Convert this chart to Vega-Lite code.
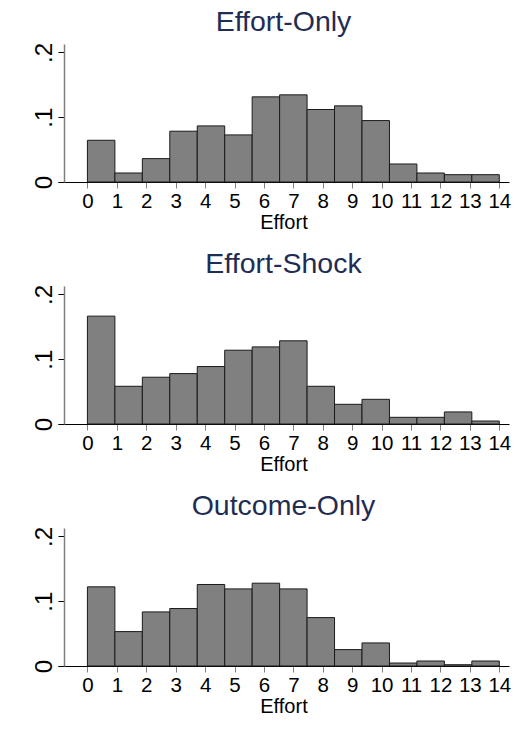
{
  "$schema": "https://vega.github.io/schema/vega-lite/v6.json",
  "background": "white",
  "padding": {"left": 32, "top": 7, "right": 5, "bottom": 5},
  "config": {
    "font": "Liberation Sans",
    "view": {"stroke": null},
    "title": {"fontSize": 28.5, "fontWeight": "normal", "color": "#1f2d54", "font": "Liberation Sans", "offset": 6, "anchor": "middle"},
    "concat": {"spacing": 16},
    "axisX": {
      "domainColor": "#000000", "domainWidth": 1,
      "tickColor": "#808080", "tickSize": 6, "tickWidth": 1,
      "labelFontSize": 20.5, "labelColor": "#000000", "labelPadding": 3,
      "titleFontSize": 20, "titleFontWeight": "normal", "titleColor": "#000000", "titlePadding": 1,
      "grid": false
    },
    "axisY": {
      "domainColor": "#7f7f7f", "domainWidth": 1.5,
      "tickColor": "#000000", "tickSize": 6, "tickWidth": 1,
      "labelFontSize": 24, "labelColor": "#000000", "labelAngle": 270,
      "labelAlign": "center", "labelBaseline": "bottom", "labelPadding": 2,
      "offset": -6, "grid": false, "title": null
    }
  },
  "data": {
    "values": [
      {"group": "Effort-Only", "bin_start": 0, "bin_end": 0.9333, "density": 0.0644},
      {"group": "Effort-Only", "bin_start": 0.9333, "bin_end": 1.8667, "density": 0.0139},
      {"group": "Effort-Only", "bin_start": 1.8667, "bin_end": 2.8, "density": 0.0361},
      {"group": "Effort-Only", "bin_start": 2.8, "bin_end": 3.7333, "density": 0.0784},
      {"group": "Effort-Only", "bin_start": 3.7333, "bin_end": 4.6667, "density": 0.0866},
      {"group": "Effort-Only", "bin_start": 4.6667, "bin_end": 5.6, "density": 0.0727},
      {"group": "Effort-Only", "bin_start": 5.6, "bin_end": 6.5333, "density": 0.1314},
      {"group": "Effort-Only", "bin_start": 6.5333, "bin_end": 7.4667, "density": 0.1345},
      {"group": "Effort-Only", "bin_start": 7.4667, "bin_end": 8.4, "density": 0.1119},
      {"group": "Effort-Only", "bin_start": 8.4, "bin_end": 9.3333, "density": 0.1175},
      {"group": "Effort-Only", "bin_start": 9.3333, "bin_end": 10.2667, "density": 0.0948},
      {"group": "Effort-Only", "bin_start": 10.2667, "bin_end": 11.2, "density": 0.0278},
      {"group": "Effort-Only", "bin_start": 11.2, "bin_end": 12.1333, "density": 0.0139},
      {"group": "Effort-Only", "bin_start": 12.1333, "bin_end": 13.0667, "density": 0.0113},
      {"group": "Effort-Only", "bin_start": 13.0667, "bin_end": 14, "density": 0.0113},

      {"group": "Effort-Shock", "bin_start": 0, "bin_end": 0.9333, "density": 0.1665},
      {"group": "Effort-Shock", "bin_start": 0.9333, "bin_end": 1.8667, "density": 0.0582},
      {"group": "Effort-Shock", "bin_start": 1.8667, "bin_end": 2.8, "density": 0.0722},
      {"group": "Effort-Shock", "bin_start": 2.8, "bin_end": 3.7333, "density": 0.0778},
      {"group": "Effort-Shock", "bin_start": 3.7333, "bin_end": 4.6667, "density": 0.0887},
      {"group": "Effort-Shock", "bin_start": 4.6667, "bin_end": 5.6, "density": 0.1139},
      {"group": "Effort-Shock", "bin_start": 5.6, "bin_end": 6.5333, "density": 0.119},
      {"group": "Effort-Shock", "bin_start": 6.5333, "bin_end": 7.4667, "density": 0.1284},
      {"group": "Effort-Shock", "bin_start": 7.4667, "bin_end": 8.4, "density": 0.0582},
      {"group": "Effort-Shock", "bin_start": 8.4, "bin_end": 9.3333, "density": 0.0304},
      {"group": "Effort-Shock", "bin_start": 9.3333, "bin_end": 10.2667, "density": 0.0381},
      {"group": "Effort-Shock", "bin_start": 10.2667, "bin_end": 11.2, "density": 0.0103},
      {"group": "Effort-Shock", "bin_start": 11.2, "bin_end": 12.1333, "density": 0.0103},
      {"group": "Effort-Shock", "bin_start": 12.1333, "bin_end": 13.0667, "density": 0.0186},
      {"group": "Effort-Shock", "bin_start": 13.0667, "bin_end": 14, "density": 0.0046},

      {"group": "Outcome-Only", "bin_start": 0, "bin_end": 0.9333, "density": 0.1222},
      {"group": "Outcome-Only", "bin_start": 0.9333, "bin_end": 1.8667, "density": 0.0531},
      {"group": "Outcome-Only", "bin_start": 1.8667, "bin_end": 2.8, "density": 0.0835},
      {"group": "Outcome-Only", "bin_start": 2.8, "bin_end": 3.7333, "density": 0.0887},
      {"group": "Outcome-Only", "bin_start": 3.7333, "bin_end": 4.6667, "density": 0.1258},
      {"group": "Outcome-Only", "bin_start": 4.6667, "bin_end": 5.6, "density": 0.119},
      {"group": "Outcome-Only", "bin_start": 5.6, "bin_end": 6.5333, "density": 0.1278},
      {"group": "Outcome-Only", "bin_start": 6.5333, "bin_end": 7.4667, "density": 0.119},
      {"group": "Outcome-Only", "bin_start": 7.4667, "bin_end": 8.4, "density": 0.0747},
      {"group": "Outcome-Only", "bin_start": 8.4, "bin_end": 9.3333, "density": 0.0253},
      {"group": "Outcome-Only", "bin_start": 9.3333, "bin_end": 10.2667, "density": 0.0356},
      {"group": "Outcome-Only", "bin_start": 10.2667, "bin_end": 11.2, "density": 0.0046},
      {"group": "Outcome-Only", "bin_start": 11.2, "bin_end": 12.1333, "density": 0.0077},
      {"group": "Outcome-Only", "bin_start": 12.1333, "bin_end": 13.0667, "density": 0.002},
      {"group": "Outcome-Only", "bin_start": 13.0667, "bin_end": 14, "density": 0.0077}
    ]
  },
  "vconcat": [
    {
      "title": "Effort-Only",
      "width": 451, "height": 138,
      "transform": [{"filter": "datum.group === 'Effort-Only'"}],
      "mark": {"type": "rect", "fill": "#808080", "stroke": "#1a1a1a", "strokeWidth": 1},
      "encoding": {
        "x": {"field": "bin_start", "type": "quantitative", "scale": {"domain": [-1, 14.33], "nice": false, "zero": false},
              "axis": {"values": [0,1,2,3,4,5,6,7,8,9,10,11,12,13,14], "title": "Effort"}},
        "x2": {"field": "bin_end"},
        "y": {"field": "density", "type": "quantitative", "scale": {"domain": [0, 0.213], "nice": false},
              "axis": {"values": [0, 0.1, 0.2], "labelExpr": "datum.value == 0 ? '0' : (datum.value < 0.15 ? '.1' : '.2')"}},
        "y2": {"datum": 0}
      }
    },
    {
      "title": "Effort-Shock",
      "width": 451, "height": 138,
      "transform": [{"filter": "datum.group === 'Effort-Shock'"}],
      "mark": {"type": "rect", "fill": "#808080", "stroke": "#1a1a1a", "strokeWidth": 1},
      "encoding": {
        "x": {"field": "bin_start", "type": "quantitative", "scale": {"domain": [-1, 14.33], "nice": false, "zero": false},
              "axis": {"values": [0,1,2,3,4,5,6,7,8,9,10,11,12,13,14], "title": "Effort"}},
        "x2": {"field": "bin_end"},
        "y": {"field": "density", "type": "quantitative", "scale": {"domain": [0, 0.213], "nice": false},
              "axis": {"values": [0, 0.1, 0.2], "labelExpr": "datum.value == 0 ? '0' : (datum.value < 0.15 ? '.1' : '.2')"}},
        "y2": {"datum": 0}
      }
    },
    {
      "title": "Outcome-Only",
      "width": 451, "height": 138,
      "transform": [{"filter": "datum.group === 'Outcome-Only'"}],
      "mark": {"type": "rect", "fill": "#808080", "stroke": "#1a1a1a", "strokeWidth": 1},
      "encoding": {
        "x": {"field": "bin_start", "type": "quantitative", "scale": {"domain": [-1, 14.33], "nice": false, "zero": false},
              "axis": {"values": [0,1,2,3,4,5,6,7,8,9,10,11,12,13,14], "title": "Effort"}},
        "x2": {"field": "bin_end"},
        "y": {"field": "density", "type": "quantitative", "scale": {"domain": [0, 0.213], "nice": false},
              "axis": {"values": [0, 0.1, 0.2], "labelExpr": "datum.value == 0 ? '0' : (datum.value < 0.15 ? '.1' : '.2')"}},
        "y2": {"datum": 0}
      }
    }
  ]
}
